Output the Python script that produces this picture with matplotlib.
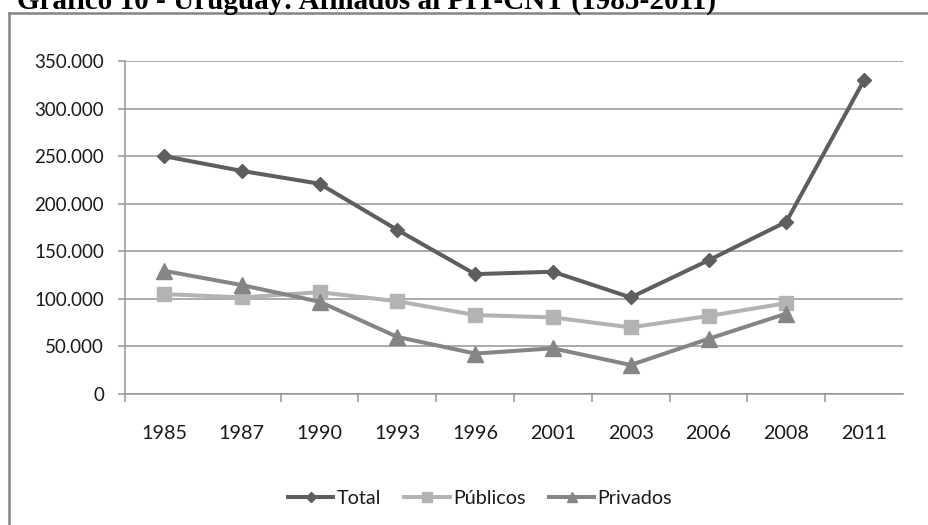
import matplotlib
matplotlib.use("Agg")
import matplotlib.pyplot as plt
from matplotlib.lines import Line2D
from matplotlib.ticker import FuncFormatter, FixedLocator

years = ['1985', '1987', '1990', '1993', '1996', '2001', '2003', '2006', '2008', '2011']
total = [250000, 234500, 221000, 172500, 126000, 128500, 101500, 140500, 181000, 330000]
publicos = [105000, 101500, 107000, 97500, 83000, 80500, 70000, 82000, 95500]
privados = [129500, 114500, 97000, 60000, 42500, 48000, 30500, 58000, 84500]
title = "Gráfico 10 - Uruguay: Afiliados al PIT-CNT (1985-2011)"

W, H = 929, 525
DPI = 100
fig = plt.figure(figsize=(W / DPI, H / DPI), dpi=DPI)
plt.rcParams['font.family'] = ['Lato', 'DejaVu Sans']

ax = fig.add_axes([125 / W, 1 - 394 / H, (903 - 125) / W, (394 - 61) / H])

c_total = '#5e5e5e'
c_pub = '#b3b3b3'
c_priv = '#858585'
grid_c = '#959595'

x = list(range(len(years)))
ax.plot(x, total, color=c_total, lw=2.9, marker='D', ms=7, label='Total', zorder=3)
ax.plot(x[:len(publicos)], publicos, color=c_pub, lw=2.9, marker='s', ms=10, label='Públicos', zorder=2)
ax.plot(x[:len(privados)], privados, color=c_priv, lw=2.9, marker='^', ms=11, label='Privados', zorder=2.5)

ax.set_xlim(-0.5, len(years) - 0.5)
ax.set_ylim(0, 350000)
ax.set_yticks(range(0, 350001, 50000))
ax.yaxis.set_major_formatter(FuncFormatter(lambda v, p: f"{int(v):,}".replace(',', '.')))
ax.set_xticks(x)
ax.set_xticklabels(years)
ax.xaxis.set_minor_locator(FixedLocator([-0.5] + [i + 0.5 for i in range(1, len(years) - 1)]))

ax.grid(axis='y', color=grid_c, lw=1.1)
ax.set_axisbelow(True)
for s in ['top', 'right']:
    ax.spines[s].set_visible(False)
for s in ['left', 'bottom']:
    ax.spines[s].set_color(grid_c)
    ax.spines[s].set_linewidth(1.1)

ax.tick_params(axis='y', length=5, color=grid_c, width=1.1, pad=10, labelsize=13.5, labelcolor='#1a1a1a')
ax.tick_params(axis='x', which='major', length=0, pad=22, labelsize=14.2, labelcolor='#1a1a1a')
ax.tick_params(axis='x', which='minor', length=6, color=grid_c, width=1.1)

leg = fig.legend(loc='center', bbox_to_anchor=(480 / W, 1 - 498 / H), ncol=3, frameon=False,
                 fontsize=14.2, handlelength=2.3, handletextpad=0.15, columnspacing=1.2,
                 markerscale=0.7)
for t in leg.get_texts():
    t.set_color('#1a1a1a')

# outer frame
fc = '#858585'
fig.add_artist(Line2D([9 / W, 9 / W], [1 - 13 / H, -0.05], transform=fig.transFigure, color=fc, lw=1.8))
fig.add_artist(Line2D([9 / W, 1.05], [1 - 13 / H, 1 - 13 / H], transform=fig.transFigure, color=fc, lw=1.8))

# title, partly cut off at top as in the reference
t = fig.text(17 / W, 1 - 9 / H, title, fontsize=18, fontweight='bold',
             family=['Liberation Serif', 'DejaVu Serif'], va='baseline', ha='left')
fig.canvas.draw()
wpx = t.get_window_extent().width
t.set_fontsize(18 * 698 / wpx)

fig.savefig('out.png', dpi=DPI)
